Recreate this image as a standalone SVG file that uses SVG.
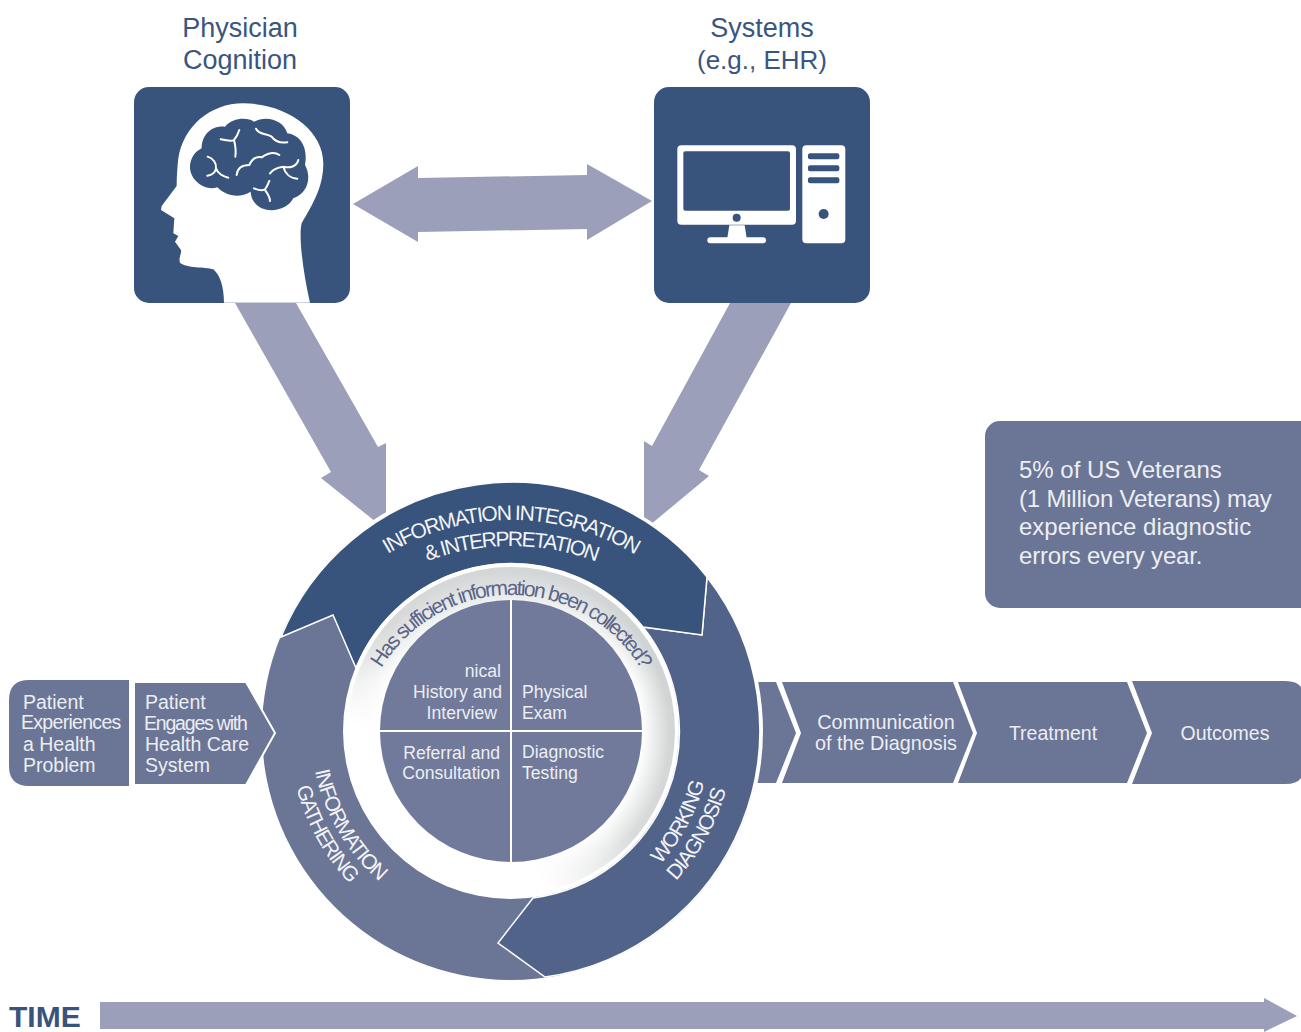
<svg xmlns="http://www.w3.org/2000/svg" xmlns:xlink="http://www.w3.org/1999/xlink" width="1301" height="1032" viewBox="0 0 1301 1032">
<style>
text{font-family:"Liberation Sans",Arial,sans-serif}
.title{font-size:27px;fill:#3a5580;text-anchor:middle}
.lbl{font-size:19.5px;fill:#eceef3}
.dsk{font-size:17.6px;fill:#eceef3}
.end{text-anchor:end}
.mid{text-anchor:middle}
.arc{font-size:21px;fill:#f2f3f6;text-anchor:middle;letter-spacing:-1.5px}
.arr{fill:#9b9fb9}
.sq{fill:#38547c}
.seg{fill:#6b7595}
.sulc{fill:none;stroke:#fff;stroke-width:6;stroke-linecap:round}
</style>
<defs>
<path id="a1" d="M271,760A240,240 0 0 1 751,760"/>
<path id="a2" d="M271,786A240,240 0 0 1 751,786"/>
<path id="a3" d="M360,746A151,151 0 0 1 662,746"/>
<path id="a4" d="M311,731A200,200 0 0 0 411,904"/>
<path id="a5" d="M289,731A222,222 0 0 0 393,919"/>
<path id="a6" d="M620,899A200,200 0 0 0 711,731"/>
<path id="a7" d="M629,920A223,223 0 0 0 734,731"/>
<linearGradient id="band" gradientUnits="userSpaceOnUse" x1="620" y1="600" x2="400" y2="860">
<stop offset="0" stop-color="#cfd2d2"/><stop offset=".5" stop-color="#d9dbdb"/><stop offset=".78" stop-color="#fff"/>
</linearGradient>
<radialGradient id="fade" gradientUnits="userSpaceOnUse" cx="511" cy="731" r="164">
<stop offset=".8" stop-color="#fff"/><stop offset=".97" stop-color="#fff" stop-opacity="0"/>
</radialGradient>
<linearGradient id="topband" gradientUnits="userSpaceOnUse" x1="511" y1="567" x2="511" y2="680">
<stop offset="0" stop-color="#d6d9d9" stop-opacity=".55"/><stop offset="1" stop-color="#d6d9d9" stop-opacity="0"/>
</linearGradient>
</defs>

<g id="connectors">
<polygon class="arr" points="353,204 418,166 418,178 587,175 587,164 652,201 587,240 587,229 418,232 418,242"/>
<polygon class="arr" points="235,303 296,303 378,447 386,443 386,530 321,478 331,472"/>
<polygon class="arr" points="730,303 791,303 699,470 709,476 644,530 644,441 652,446"/>
<polygon class="arr" points="100,1002 1264,1002 1264,998 1297,1016 1264,1032 1264,1029 100,1029"/>
</g>

<g id="physician-cognition">
<text class="title" x="240" y="37">Physician</text>
<text class="title" x="240" y="69">Cognition</text>
<rect class="sq" x="134" y="87" width="216" height="216" rx="15"/>
<g transform="translate(130 80) scale(.3333)">
<path fill="#fff" d="M282,668C282,620 270,585 250,568C225,560 170,565 150,548C145,535 155,520 153,510L135,485L145,468L130,460L133,415L93,390L95,378L140,318C140,290 142,260 145,235C160,140 240,70 340,70C470,70 580,150 580,250C580,320 550,370 515,430C505,470 520,580 540,668Z"/>
<path class="sq" d="M215,205C215,160 250,135 285,140C305,115 350,110 372,125C410,105 460,120 472,160C510,165 535,200 525,255C545,290 535,340 490,355C475,385 430,400 395,385C375,375 362,355 362,335C330,355 290,350 262,322C225,335 180,300 180,262C180,235 195,215 215,205Z"/>
<path class="sulc" d="M272,178C290,182 305,185 312,180C320,170 325,160 328,150M312,180C316,195 318,215 316,230"/>
<path class="sulc" d="M378,146C385,165 410,160 425,170C435,185 450,190 472,187"/>
<path class="sulc" d="M233,230C250,235 260,250 258,265C262,280 280,290 295,293M258,265C255,280 245,285 232,287"/>
<path class="sulc" d="M320,285C322,265 335,255 358,255C365,240 375,228 395,232C410,222 430,212 448,225"/>
<path class="sulc" d="M420,280C430,265 445,262 460,260C480,265 500,260 505,240M460,260C465,280 480,295 502,296"/>
<path class="sulc" d="M372,325C385,330 400,332 405,328C412,320 415,310 418,303M405,330C412,340 420,350 420,363"/>
</g>
</g>

<g id="systems">
<text class="title" x="762" y="37">Systems</text>
<text class="title" x="762" y="69" style="font-size:26px">(e.g., EHR)</text>
<rect class="sq" x="654" y="87" width="216" height="216" rx="15"/>
<g transform="translate(650 120) scale(.3333)">
<rect fill="#fff" x="82" y="76" width="356" height="238" rx="12"/>
<rect class="sq" x="100" y="94" width="320" height="178" rx="6"/>
<circle class="sq" cx="260" cy="293" r="12"/>
<polygon fill="#fff" points="238,316 284,316 290,354 232,354"/>
<rect fill="#fff" x="172" y="352" width="176" height="18" rx="9"/>
<rect fill="#fff" x="457" y="76" width="129" height="294" rx="12"/>
<rect class="sq" x="474" y="100" width="94" height="18" rx="6"/>
<rect class="sq" x="474" y="136" width="94" height="18" rx="6"/>
<rect class="sq" x="474" y="172" width="94" height="18" rx="6"/>
<circle class="sq" cx="521" cy="282" r="15"/>
</g>
</g>

<g id="veterans-note">
<rect class="seg" x="985" y="421" width="340" height="187" rx="15"/>
<g font-size="24" fill="#eceef3">
<text x="1019" y="478">5% of US Veterans</text>
<text x="1019" y="507" letter-spacing="-.2">(1 Million Veterans) may</text>
<text x="1019" y="535">experience diagnostic</text>
<text x="1019" y="564" letter-spacing="-.2">errors every year.</text>
</g>
</g>

<g id="step-communication-bar">
<polygon class="seg" points="750,682 776,682 796,733 776,783 750,783"/>
</g>
<g id="step-communication">
<polygon class="seg" points="782,682 953,682 973,733 953,783 782,783 801,733"/>
<text class="lbl mid" x="886" y="729" style="font-size:19.8px">Communication</text>
<text class="lbl mid" x="886" y="750" style="font-size:19.8px">of the Diagnosis</text>
</g>
<g id="step-treatment">
<polygon class="seg" points="958,682 1127,682 1147,733 1127,783 958,783 977,733"/>
<text class="lbl mid" x="1053" y="740">Treatment</text>
</g>
<g id="step-outcomes">
<path class="seg" d="M1132,681H1285Q1297,681 1301,687V778Q1297,784 1285,784H1132L1152,733Z"/>
<text class="lbl mid" x="1225" y="740">Outcomes</text>
</g>

<g id="cycle">
<circle cx="511" cy="731" r="252" fill="#fff"/>
<circle class="seg" cx="511" cy="731" r="249"/>
<path id="working-diagnosis" fill="#52638a" stroke="#fff" stroke-width="1.5" d="M707,577A249,249 0 0 1 545,977L498,943L533,898A168,168 0 0 0 643,627L702,635Z"/>
<path id="information-integration" fill="#38547c" stroke="#fff" stroke-width="1.5" d="M281,637A249,249 0 0 1 707,577L702,635L643,627A168,168 0 0 0 356,668L333,615Z"/>
<circle cx="511" cy="731" r="168" fill="#fff"/>
<circle cx="511" cy="731" r="164" fill="url(#band)"/>
<circle cx="511" cy="731" r="164" fill="url(#fade)"/>
<circle cx="511" cy="731" r="164" fill="url(#topband)"/>
<circle cx="511" cy="731" r="131" fill="#717a9b"/>
<path d="M511,600V862M380,731H642" stroke="#fff" stroke-width="2" fill="none"/>
<text class="arc"><textPath xlink:href="#a1" href="#a1" startOffset="50%">INFORMATION INTEGRATION</textPath></text>
<text class="arc" style="letter-spacing:-1.8px"><textPath xlink:href="#a2" href="#a2" startOffset="50%">&amp; INTERPRETATION</textPath></text>
<text class="arc" style="fill:#5a6589;font-size:21px;letter-spacing:-1.85px"><textPath xlink:href="#a3" href="#a3" startOffset="50%">Has sufficient information been collected?</textPath></text>
<text class="arc"><textPath xlink:href="#a4" href="#a4" startOffset="50%">INFORMATION</textPath></text>
<text class="arc"><textPath xlink:href="#a5" href="#a5" startOffset="50%">GATHERING</textPath></text>
<text class="arc"><textPath xlink:href="#a6" href="#a6" startOffset="50%">WORKING</textPath></text>
<text class="arc"><textPath xlink:href="#a7" href="#a7" startOffset="50%">DIAGNOSIS</textPath></text>
<text class="dsk end" x="501" y="677">nical</text>
<text class="dsk end" x="502" y="698">History and</text>
<text class="dsk end" x="497" y="719">Interview</text>
<text class="dsk" x="522" y="698">Physical</text>
<text class="dsk" x="522" y="719">Exam</text>
<text class="dsk end" x="500" y="759">Referral and</text>
<text class="dsk end" x="500" y="779">Consultation</text>
<text class="dsk" x="522" y="758">Diagnostic</text>
<text class="dsk" x="522" y="779">Testing</text>
</g>

<g id="step-patient-experiences">
<path class="seg" d="M129,680H29Q9,680 9,700V766Q9,786 29,786H129Z"/>
<text class="lbl" x="23" y="709">Patient</text>
<text class="lbl" x="21" y="729" letter-spacing="-.7">Experiences</text>
<text class="lbl" x="23" y="751">a Health</text>
<text class="lbl" x="23" y="772">Problem</text>
</g>
<g id="step-patient-engages">
<polygon class="seg" points="134,682 246,682 275,733 246,785 134,785" stroke="#fff" stroke-width="2"/>
<text class="lbl" x="145" y="709">Patient</text>
<text class="lbl" x="144" y="730" letter-spacing="-1.2">Engages with</text>
<text class="lbl" x="145" y="751">Health Care</text>
<text class="lbl" x="145" y="772">System</text>
</g>

<g id="time-label">
<text x="9" y="1027" font-size="30" font-weight="700" fill="#38547c">TIME</text>
</g>
</svg>
